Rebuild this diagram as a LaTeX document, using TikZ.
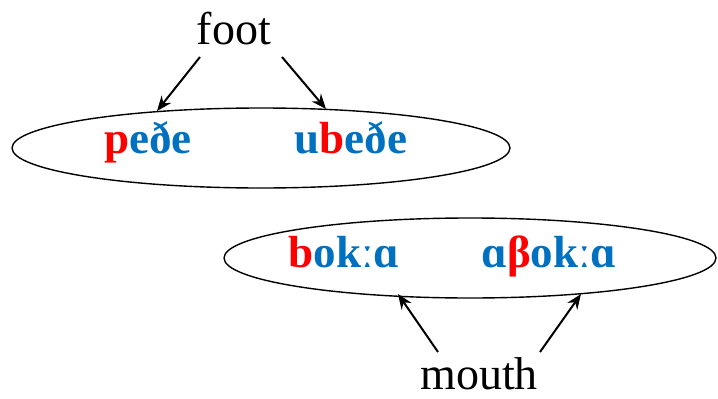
\documentclass[tikz,border=0pt]{standalone}
\usepackage{fontspec}
\setmainfont{Liberation Serif}
\usetikzlibrary{arrows.meta}
\definecolor{ipablue}{RGB}{0,112,192}
\definecolor{ipared}{RGB}{255,0,0}
\newcommand{\rd}[1]{\textcolor{ipared}{#1}}
\begin{document}
\begin{tikzpicture}[x=1pt,y=-1pt,
  gloss/.style={font=\fontsize{46}{50}\selectfont, inner sep=0pt, anchor=base},
  form/.style={font=\fontsize{45}{48}\selectfont\bfseries, text=ipablue, inner sep=0pt, anchor=base},
  link/.style={-{Stealth[length=15pt,width=12pt]}, line width=2pt}]
\useasboundingbox (0,0) rectangle (718,399);
% the two groups of related forms
\draw[line width=1.4pt] (261,148) ellipse [x radius=249, y radius=40];
\draw[line width=1.4pt] (470,258) ellipse [x radius=246, y radius=40];
% glosses
\node[gloss] (foot) at (234,44) {foot};
\node[gloss] (mouth) at (479,389) {mouth};
% word forms
\node[form] (pede) at (148,153) {\rd{p}eðe};
\node[form] (ubede) at (351,153) {u\rd{b}eðe};
\node[form] (boka) at (344,267) {\rd{b}okːɑ};
\node[form] (abeta) at (549,267) {ɑ\rd{β}okːɑ};
% arrow ends
\coordinate (tp) at (157,111);
\coordinate (tu) at (326,109);
\coordinate (tb) at (398,294);
\coordinate (ta) at (581,294);
\coordinate (sf1) at (200,57);
\coordinate (sf2) at (282,57);
\coordinate (sm1) at (438,352);
\coordinate (sm2) at (540,352);
\draw[link] (sf1) -- (tp);
\draw[link] (sf2) -- (tu);
\draw[link] (sm1) -- (tb);
\draw[link] (sm2) -- (ta);
\end{tikzpicture}
\end{document}
